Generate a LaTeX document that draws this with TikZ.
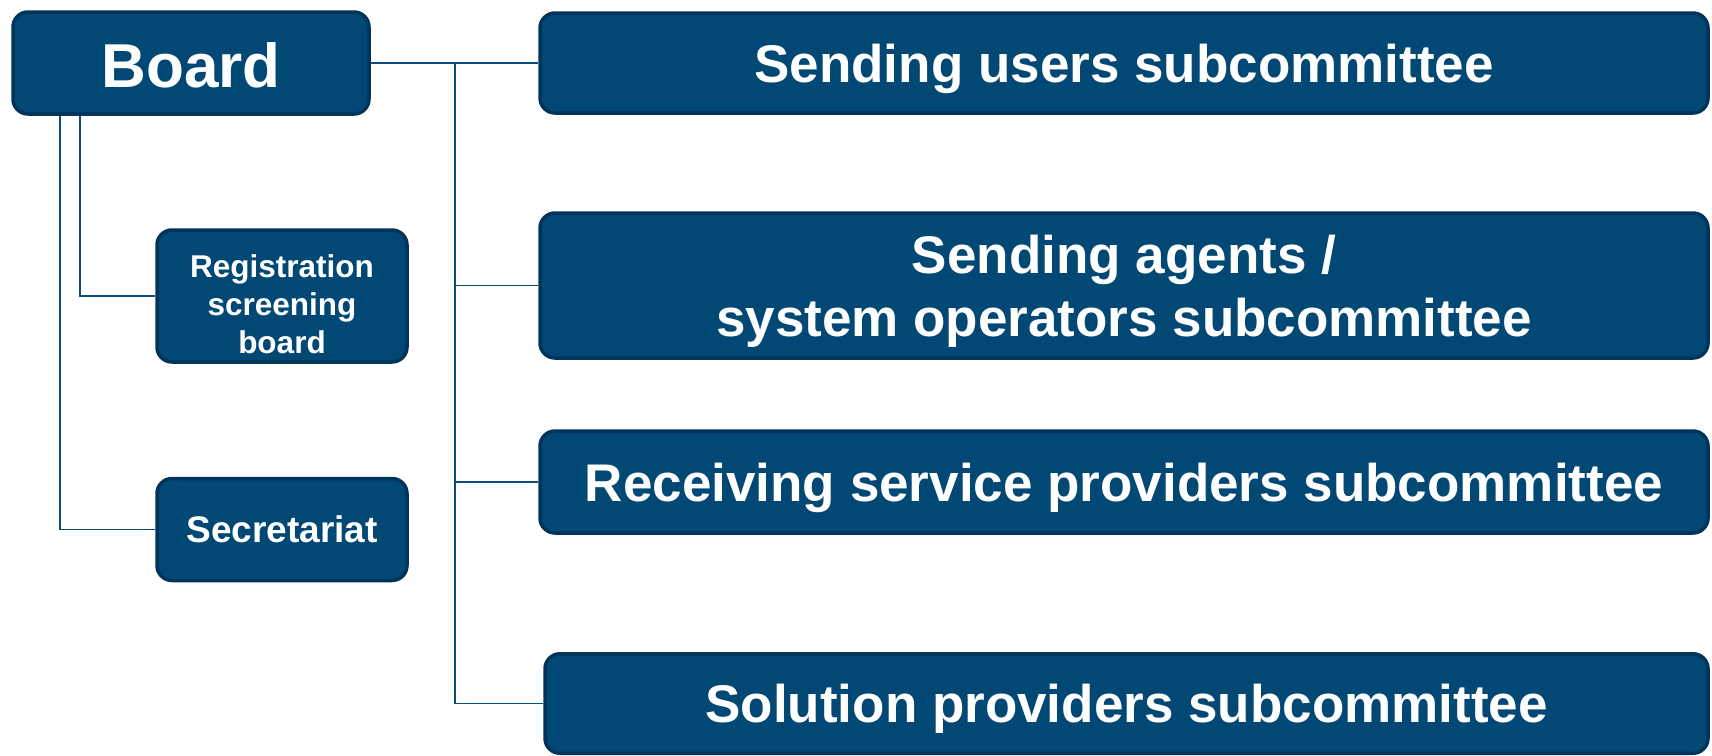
\documentclass[tikz,border=0pt]{standalone}
\usepackage{fontspec}
\setmainfont{Liberation Sans}
\definecolor{boxfill}{HTML}{024874}
\definecolor{boxedge}{HTML}{00345A}
\definecolor{linkcol}{HTML}{0B4D7E}
\begin{document}
\begin{tikzpicture}[x=1pt,y=-1pt,
  orgbox/.style={draw=boxedge,fill=boxfill,line width=3.5pt,rounded corners=15pt,
    inner sep=0pt,text=white,font=\bfseries,align=center,text depth=0pt},
  link/.style={draw=linkcol,line width=1.8pt}]
\useasboundingbox (0,0) rectangle (1712,755);
\begin{scope}
\clip (0,0) rectangle (1712,755);
\coordinate (t) at (455,62);
\coordinate (b1) at (60,100);
\coordinate (b2) at (80,100);
\node[orgbox,minimum width=356pt,minimum height=102pt,font=\bfseries\fontsize{62}{70}\selectfont] (board) at (191,63) {\rule{0pt}{48pt}Board};
\node[orgbox,minimum width=1168pt,minimum height=100pt,font=\bfseries\fontsize{53}{63}\selectfont] (su) at (1124,63) {Sending users subcommittee};
\node[orgbox,minimum width=1168pt,minimum height=145pt,font=\bfseries\fontsize{53}{63}\selectfont] (sa) at (1124,285.5) {Sending agents /\\system operators subcommittee};
\node[orgbox,minimum width=1168pt,minimum height=102pt,font=\bfseries\fontsize{53}{63}\selectfont] (rs) at (1124,482) {Receiving service providers subcommittee};
\node[orgbox,minimum width=1163pt,minimum height=99.5pt,font=\bfseries\fontsize{53}{63}\selectfont] (so) at (1126.5,703.5) {Solution providers subcommittee};
\node[orgbox,minimum width=250pt,minimum height=132pt,font=\bfseries\fontsize{31.5}{38}\selectfont] (reg) at (282,296) {\rule{0pt}{39pt}Registration\\screening\\board};
\node[orgbox,minimum width=250pt,minimum height=102pt,font=\bfseries\fontsize{37}{44}\selectfont] (sec) at (282,529.5) {Secretariat};
\path[link] (board.east) -- (su.west);
\path[link] (t) |- (so.west);
\path[link] (t |- sa.west) -- (sa.west);
\path[link] (t |- rs.west) -- (rs.west);
\path[link] (board.south -| b1) |- (sec.west);
\path[link] (board.south -| b2) |- (reg.west);
\end{scope}
\end{tikzpicture}
\end{document}
